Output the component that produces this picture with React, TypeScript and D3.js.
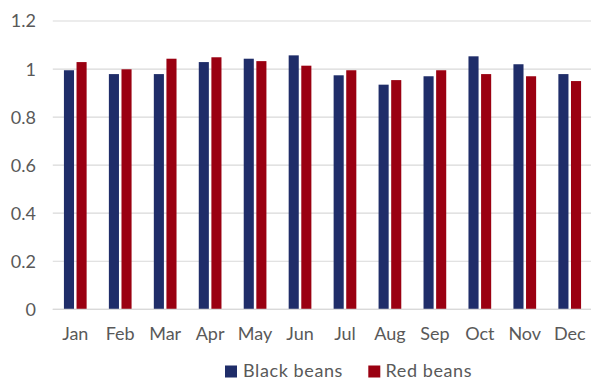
import React from "react";
import * as d3 from "d3";

const months = ["Jan", "Feb", "Mar", "Apr", "May", "Jun", "Jul", "Aug", "Sep", "Oct", "Nov", "Dec"];
const seriesNames = ["Black beans", "Red beans"];
const blackBeans = [0.995, 0.979, 0.979, 1.029, 1.043, 1.057, 0.974, 0.935, 0.97, 1.053, 1.02, 0.979];
const redBeans = [1.029, 0.999, 1.043, 1.049, 1.033, 1.014, 0.995, 0.954, 0.995, 0.979, 0.97, 0.95];
const yTicks = [0, 0.2, 0.4, 0.6, 0.8, 1, 1.2];
const colors = ["#1F2D69", "#9A0011"];

const W = 591;
const H = 381;
const FONT = "Lato, 'Open Sans', sans-serif";

export default function App() {
  const left = 52.8;
  const right = 592.2;
  const top = 21;
  const bottom = 309.3;
  const x0 = d3.scaleBand<string>().domain(months).range([left, right]).paddingInner(0.495).paddingOuter(0.2475);
  const x1 = d3.scaleBand<string>().domain(seriesNames).range([0, x0.bandwidth()]).paddingInner(0.2);
  const y = d3.scaleLinear().domain([0, 1.2]).range([bottom, top]);
  const data = [blackBeans, redBeans];
  const fmt = (v: number) => (v === 0 || v === 1 ? String(v) : d3.format(".1f")(v));

  return (
    <svg width={W} height={H} style={{ position: "absolute", left: 0, top: 0, background: "#fff" }} fontFamily={FONT}>
      {yTicks.map((t) => (
        <g key={t}>
          <line x1={left} x2={W} y1={y(t)} y2={y(t)} stroke="#D9D9D9" strokeWidth={1.2} />
          <text x={36} y={y(t)} dy="0.36em" textAnchor="end" fontSize={18} fill="#595959">
            {fmt(t)}
          </text>
        </g>
      ))}
      {data.map((vals, si) =>
        vals.map((v, i) => (
          <rect
            key={si + "-" + i}
            x={(x0(months[i]) as number) + (x1(seriesNames[si]) as number)}
            y={y(v)}
            width={x1.bandwidth()}
            height={y(0) - y(v)}
            fill={colors[si]}
          />
        ))
      )}
      <line x1={left} x2={W} y1={y(0)} y2={y(0)} stroke="#D9D9D9" strokeWidth={1.2} />
      {months.map((m) => (
        <text key={m} x={(x0(m) as number) + x0.bandwidth() / 2} y={340} textAnchor="middle" fontSize={18} fill="#595959">
          {m}
        </text>
      ))}
      <rect x={225} y={365.5} width={12} height={12} fill={colors[0]} />
      <text x={243} y={377} fontSize={18} fill="#595959" letterSpacing={0.6}>{seriesNames[0]}</text>
      <rect x={368.3} y={365.5} width={12} height={12} fill={colors[1]} />
      <text x={385.5} y={377} fontSize={18} fill="#595959" letterSpacing={0.6}>{seriesNames[1]}</text>
    </svg>
  );
}
